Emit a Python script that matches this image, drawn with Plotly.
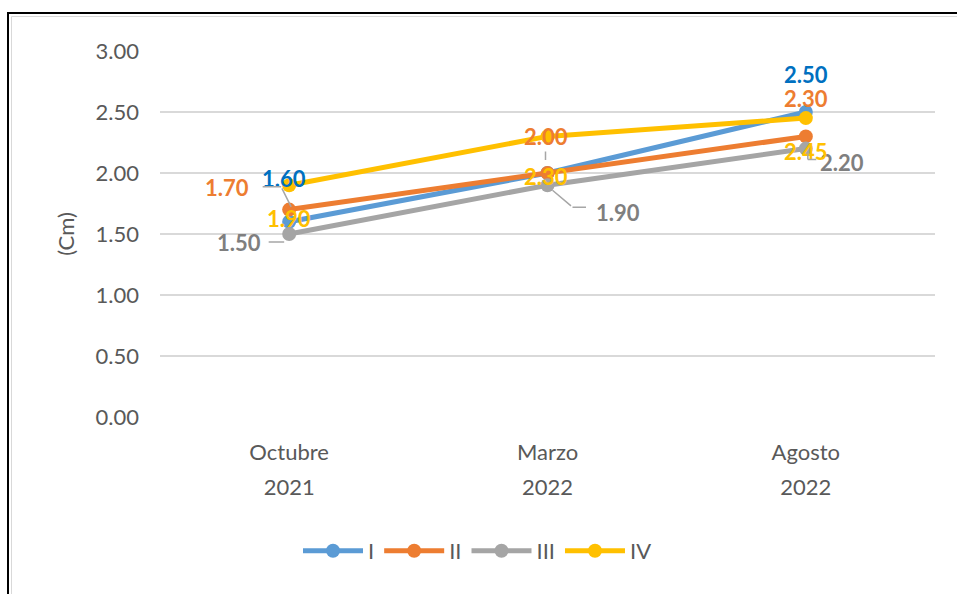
import plotly.graph_objects as go

# ---- data ----
months = ["Octubre", "Marzo", "Agosto"]
years = ["2021", "2022", "2022"]
series_names = ["I", "II", "III", "IV"]
values_I = [1.60, 2.00, 2.50]
values_II = [1.70, 2.00, 2.30]
values_III = [1.50, 1.90, 2.20]
values_IV = [1.90, 2.30, 2.45]
y_ticks = [0.0, 0.5, 1.0, 1.5, 2.0, 2.5, 3.0]

# ---- style ----
line_colors = ["#5B9BD5", "#ED7D31", "#A5A5A5", "#FFC000"]
label_colors = ["#0070C0", "#ED7D31", "#7F7F7F", "#FFC000"]
# label offsets in pixels (dx right, dy down); None = label hidden
label_offsets = [
    [(-5, -43), None, (0, -38)],
    [(-62, -22), (-2, -37), (0, -38)],
    [(-50, 8), (70, 27), (36, 14)],
    [(0, 33), (-2, 40), (0, 33)],
]
# leader line segments: (series, point, head dx, head dy, tail ax, tail ay)
leaders = [
    (2, 0, -5, 8, -17, 0),
    (0, 0, -8, -35, -20, 0),
    (0, 0, 2, -15, -10, -20),
    (2, 1, 5, 5, 20, 17),
    (2, 1, 25, 22, 15, 0),
    (1, 1, -2, -13, 0, -10),
    (2, 2, 2, 11, 0, -7),
    (2, 2, 2, 11, 10, 0),
]

FONT = "Lato"
all_values = [values_I, values_II, values_III, values_IV]

fig = go.Figure()
for name, vals, col in zip(series_names, all_values, line_colors):
    fig.add_trace(go.Scatter(
        x=months, y=vals, name=name, mode="lines+markers",
        line=dict(color=col, width=5),
        marker=dict(color=col, size=14),
    ))
# empty helper trace so the second (year) category axis is drawn
fig.add_trace(go.Scatter(x=months, y=[None] * len(months), xaxis="x2",
                         showlegend=False, hoverinfo="skip", mode="lines"))

annotations = []
for si, vals in enumerate(all_values):
    for pi, v in enumerate(vals):
        off = label_offsets[si][pi]
        if off is None:
            continue
        annotations.append(dict(
            x=months[pi], y=v, xref="x", yref="y", text=f"{v:.2f}",
            showarrow=False, xshift=off[0], yshift=-off[1],
            font=dict(family=FONT, size=22, color=label_colors[si], weight="bold"),
        ))
for si, pi, hx, hy, ax, ay in leaders:
    annotations.append(dict(
        x=months[pi], y=all_values[si][pi], xref="x", yref="y", text="",
        showarrow=True, arrowhead=0, arrowwidth=1.5, arrowcolor="#A6A6A6",
        xshift=hx, yshift=-hy, ax=ax, ay=ay, axref="pixel", ayref="pixel",
    ))

# plot area in pixels: left 160, right 935, top 51, bottom 417
W, H = 957, 594
L, R, T, B = 160, 935, 51, 417
pw, ph = R - L, B - T

def px(xp):
    return (xp - L) / pw

def py(yp):
    return (B - yp) / ph

shapes = [
    dict(type="rect", xref="paper", yref="paper",
         x0=px(8), x1=px(1000), y0=py(700), y1=py(13),
         line=dict(color="black", width=2), fillcolor="rgba(0,0,0,0)", layer="below"),
    dict(type="rect", xref="paper", yref="paper",
         x0=px(11.5), x1=px(1000), y0=py(700), y1=py(16.5),
         line=dict(color="#D9D9D9", width=1), fillcolor="rgba(0,0,0,0)", layer="below"),
]

tick_font = dict(family=FONT, size=22, color="#595959")

fig.update_layout(
    width=W, height=H,
    margin=dict(l=L, r=W - R, t=T, b=H - B, autoexpand=False),
    paper_bgcolor="white", plot_bgcolor="white",
    font=dict(family=FONT, size=22, color="#595959"),
    showlegend=True,
    legend=dict(orientation="h", x=px(298), xanchor="left", y=py(551), yanchor="middle",
                font=tick_font, itemwidth=60, tracegroupgap=0),
    xaxis=dict(type="category", categoryorder="array", categoryarray=months,
               range=[-0.5, 2.5], showgrid=False, showline=False, zeroline=False,
               ticks="", ticklabelstandoff=20, tickfont=tick_font),
    xaxis2=dict(type="category", categoryorder="array", categoryarray=months,
                range=[-0.5, 2.5], overlaying="x", side="bottom", anchor="y",
                tickmode="array", tickvals=months, ticktext=years,
                showgrid=False, showline=False, zeroline=False, ticks="",
                ticklabelstandoff=55, tickfont=tick_font),
    yaxis=dict(range=[0, 3], tickmode="array", tickvals=y_ticks,
               tickformat=".2f", showgrid=True, gridcolor="#D9D9D9", gridwidth=1.5,
               zeroline=False, showline=False, ticks="", ticklabelstandoff=20,
               tickfont=tick_font,
               title=dict(text="(Cm)", standoff=14, font=tick_font)),
    annotations=annotations,
    shapes=shapes,
)

fig.write_html("out.html")
